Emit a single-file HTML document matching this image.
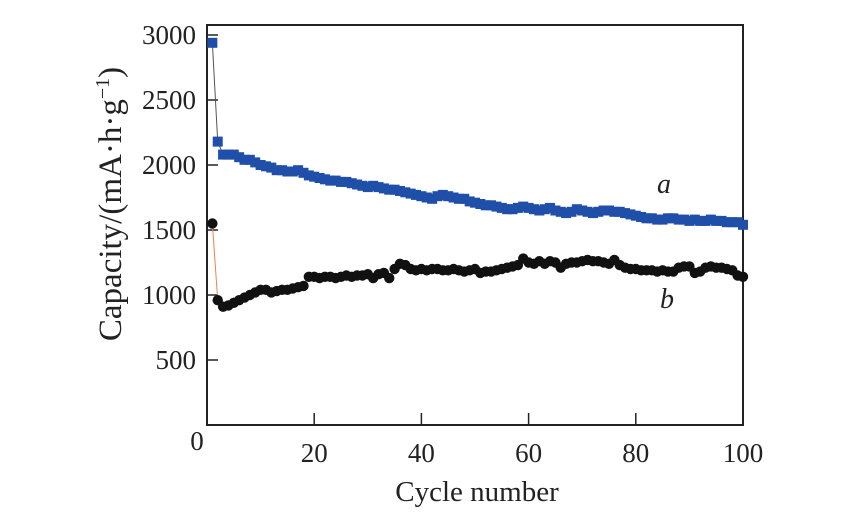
<!DOCTYPE html>
<html><head><meta charset="utf-8"><style>
body{margin:0;background:#fff;}
svg text{font-family:"Liberation Serif",serif;fill:#222;}
</style></head><body>
<svg id="chart" width="850" height="524">
<g id="axes"></g><g id="marks"></g>
</svg>
<script>
const xTicks=[0,20,40,60,80,100];
const yTicks=[0,500,1000,1500,2000,2500,3000];
const seriesA=[2940,2180,2080,2080,2080,2060,2040,2040,2020,2000,1990,1980,1960,1960,1950,1950,1960,1940,1920,1910,1900,1890,1880,1880,1870,1870,1860,1850,1840,1830,1840,1830,1820,1810,1810,1800,1790,1780,1770,1760,1750,1740,1760,1770,1760,1750,1740,1740,1720,1710,1700,1690,1690,1680,1670,1660,1660,1670,1680,1670,1660,1650,1660,1670,1650,1640,1630,1640,1660,1650,1640,1630,1640,1650,1650,1640,1640,1630,1620,1610,1600,1590,1590,1580,1580,1590,1590,1580,1580,1570,1580,1570,1570,1580,1570,1570,1560,1560,1560,1540];
const seriesB=[1550,960,910,920,940,960,980,1000,1020,1040,1040,1020,1030,1040,1040,1050,1060,1070,1140,1140,1130,1140,1140,1130,1140,1150,1140,1150,1150,1160,1130,1160,1170,1130,1200,1240,1230,1200,1190,1200,1190,1200,1200,1190,1190,1200,1190,1180,1190,1200,1170,1180,1180,1190,1200,1210,1220,1230,1280,1250,1240,1260,1240,1260,1250,1210,1240,1250,1250,1260,1270,1260,1260,1250,1240,1270,1230,1210,1200,1200,1190,1190,1190,1180,1190,1180,1180,1210,1220,1220,1170,1180,1210,1220,1210,1210,1200,1190,1150,1140];
const X0=207,X1=743,Y0=425,Y1=35;
const sx=v=>X0+(X1-X0)*v/100;
const sy=v=>Y0-(Y0-Y1)*v/3000;
const NS='http://www.w3.org/2000/svg';
function mk(t,a,p){const e=document.createElementNS(NS,t);for(const k in a)e.setAttribute(k,a[k]);p.appendChild(e);return e;}
const axes=document.getElementById('axes'),marks=document.getElementById('marks');
const frame=mk('rect',{x:X0,y:25,width:X1-X0,height:Y0-25,fill:'none',stroke:'#222','stroke-width':2},axes);

yTicks.forEach(v=>{
 const l=mk('line',{x1:X0,x2:X0+11,y1:sy(v),y2:sy(v),stroke:'#222','stroke-width':1.5},axes);
 
 if(v===0)return;
 const t=mk('text',{x:X0-11,y:sy(v)+9,'text-anchor':'end','font-size':27},axes);t.textContent=v;
 
});
xTicks.forEach(v=>{
 const l=mk('line',{x1:sx(v),x2:sx(v),y1:Y0,y2:Y0-12,stroke:'#222','stroke-width':1.5},axes);
 
 const t=mk('text',{x:v===0?197:sx(v),y:v===0?450:462,'text-anchor':'middle','font-size':27},axes);t.textContent=v;
 
});
const xt=mk('text',{x:477,y:501,'text-anchor':'middle','font-size':29},axes);xt.textContent='Cycle number';

const yt=mk('text',{x:0,y:0,'text-anchor':'middle','font-size':33,transform:'translate(121,204) rotate(-90)'},axes);
yt.innerHTML='Capacity/(mA·h·g<tspan dy="-12" font-size="20">−1</tspan><tspan dy="12">)</tspan>';

function line(arr,col,name){
 const p=mk('polyline',{points:arr.map((v,i)=>sx(i+1)+','+sy(v)).join(' '),fill:'none',stroke:col,'stroke-width':1},marks);
 
}
line(seriesA,'#555','series-a-line');line(seriesB,'#f08050','series-b-line');
seriesA.forEach((v,i)=>{const r=mk('rect',{x:sx(i+1)-5,y:sy(v)-5,width:10,height:10,fill:'#1f4fa8'},marks);
 });
seriesB.forEach((v,i)=>{const c=mk('circle',{cx:sx(i+1),cy:sy(v),r:5.2,fill:'#111'},marks);
 });
const la=mk('text',{x:657,y:193,'font-size':28,'font-style':'italic'},marks);la.textContent='a';

const lb=mk('text',{x:660,y:308,'font-size':28,'font-style':'italic'},marks);lb.textContent='b';

</script>
</body></html>
